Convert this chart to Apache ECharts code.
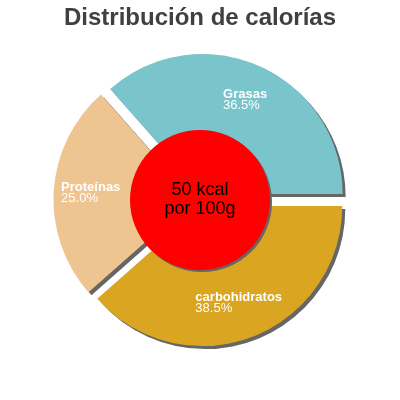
<!DOCTYPE html>
<html>
<head>
<meta charset="utf-8">
<script src="https://cdn.jsdelivr.net/npm/echarts@6/dist/echarts.min.js"></script>
<style>
  html, body { margin: 0; padding: 0; background: #fff; }
  #chart { width: 400px; height: 400px; }
</style>
</head>
<body>
<div id="chart"></div>
<script>
'use strict'

// calorie split, percent of energy
var categories = ['Grasas', 'carbohidratos', 'Proteínas'];
var percents = [36.5, 38.5, 25.0];
var colors = ['#7AC4CC', '#DAA520', '#EEC591'];
var centerText = '50 kcal\npor 100g';

var chart = echarts.init(document.getElementById('chart'));

var sliceData = categories.map(function (name, i) {
    return {
        name: name,
        value: percents[i],
        selected: true,
        itemStyle: { color: colors[i] }
    };
});

chart.setOption({
    animation: false,
    title: {
        text: 'Distribución de calorías',
        left: 'center',
        top: 1,
        textStyle: {
            fontFamily: 'Liberation Sans',
            fontSize: 24,
            fontWeight: 'bold',
            color: '#404040'
        }
    },
    series: [{
        name: 'calorias',
        type: 'pie',
        center: [200, 200],
        // inner edge hidden under the red disc, only there to push labels out
        radius: [60, 140],
        startAngle: 131.4,
        clockwise: true,
        selectedMode: 'multiple',
        selectedOffset: 6.5,
        silent: true,
        itemStyle: {
            shadowColor: '#666666',
            shadowBlur: 0,
            shadowOffsetX: 3,
            shadowOffsetY: 3
        },
        label: {
            show: true,
            position: 'inside',
            rotate: 0,
            formatter: function (p) {
                return '{n|' + p.name + '}\n{p|' + p.value.toFixed(1) + '%}';
            },
            rich: {
                n: {
                    align: 'left',
                    color: '#ffffff',
                    fontFamily: 'Liberation Sans',
                    fontWeight: 'bold',
                    fontSize: 13,
                    lineHeight: 11
                },
                p: {
                    align: 'left',
                    color: '#ffffff',
                    fontFamily: 'Liberation Sans',
                    fontSize: 13,
                    lineHeight: 11
                }
            }
        },
        labelLine: { show: false },
        emphasis: { disabled: true },
        data: sliceData
    }, {
        name: 'centro',
        type: 'pie',
        center: [200, 200],
        radius: [0, 70],
        silent: true,
        z: 5,
        itemStyle: {
            color: '#FF0000',
            shadowColor: '#666666',
            shadowBlur: 0,
            shadowOffsetX: 2,
            shadowOffsetY: 2
        },
        label: {
            show: true,
            position: 'center',
            formatter: centerText,
            color: '#000000',
            fontFamily: 'Liberation Sans',
            fontSize: 18,
            lineHeight: 19
        },
        labelLine: { show: false },
        emphasis: { disabled: true },
        data: [{ name: 'energia', value: 1 }]
    }]
});
</script>
</body>
</html>
